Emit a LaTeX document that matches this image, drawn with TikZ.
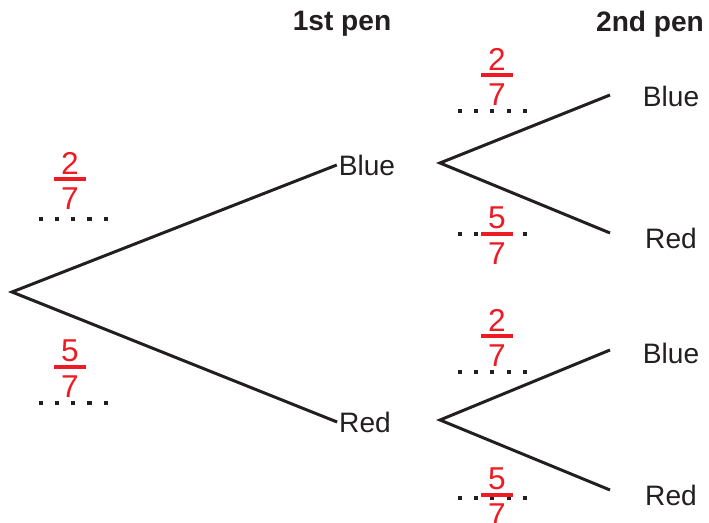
\documentclass[tikz,border=0pt]{standalone}
\usepackage{fontspec}
\setmainfont{Liberation Sans}
\usetikzlibrary{positioning}
\definecolor{fracred}{RGB}{237,28,36}
\definecolor{inkblack}{RGB}{35,31,32}
% a fraction over sevenths: name, x, y of the bar, numerator
\newcommand{\sevenths}[4]{%
  \node[digit] (#1-num) at (#2,{#3-16}) {#4};
  \draw[fracbar] ({#2-16},#3) -- ({#2+16},#3);
  \node[digit] (#1-den) at (#2,{#3+20}) {7};}

\begin{document}
\begin{tikzpicture}[x=0.02cm,y=-0.02cm,
  branch/.style={inkblack,line width=1.7pt,line join=miter},
  outcome/.style={inner sep=1pt,font=\fontsize{16}{19}\selectfont,text=inkblack},
  heading/.style={font=\bfseries\fontsize{16}{19}\selectfont,text=inkblack},
  digit/.style={inner sep=0pt,font=\fontsize{18}{21}\selectfont,text=fracred},
  fracbar/.style={fracred,line width=2.8pt},
  blanks/.style={inkblack,line width=2.3pt,dash pattern=on 2.3pt off 6.9pt}]
  \useasboundingbox (0,0) rectangle (709,523);

  \node[heading] (first) at (342,24) {1st pen};
  \node[heading] (second) at (650,24) {2nd pen};

  % first pen
  \coordinate (root) at (12,292);
  \node[outcome] (blue1) at (367,165) {Blue};
  \node[outcome] (red1) at (365,422) {Red};
  \draw[branch] (blue1.west) -- (root) -- (red1.west);

  % second pen after blue
  \coordinate (fromblue) at (440,163);
  \coordinate (bb-end) at (610,95);
  \coordinate (br-end) at (610,233);
  \node[outcome] (bb) at (671,96) {Blue};
  \node[outcome] (br) at (671,238) {Red};
  \draw[branch] (bb-end) -- (fromblue) -- (br-end);

  % second pen after red
  \coordinate (fromred) at (440,420);
  \coordinate (rb-end) at (610,350);
  \coordinate (rr-end) at (610,490);
  \node[outcome] (rb) at (671,353) {Blue};
  \node[outcome] (rr) at (671,495) {Red};
  \draw[branch] (rb-end) -- (fromred) -- (rr-end);

  % answer spaces
  \draw[blanks] (39,219) -- (108,219);
  \draw[blanks] (39,403) -- (108,403);
  \draw[blanks] (458,111) -- (527,111);
  \draw[blanks] (458,234) -- (527,234);
  \draw[blanks] (458,372) -- (527,372);
  \draw[blanks] (458,498) -- (527,498);

  % probabilities
  \sevenths{pb1}{70}{179}{2}
  \sevenths{pr1}{70}{367}{5}
  \sevenths{pbb}{497}{75}{2}
  \sevenths{pbr}{497}{234}{5}
  \sevenths{prb}{497}{336}{2}
  \sevenths{prr}{497}{495}{5}
\end{tikzpicture}
\end{document}
